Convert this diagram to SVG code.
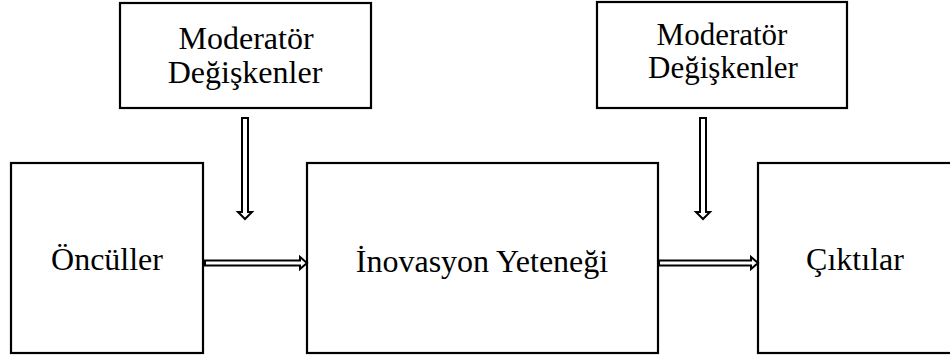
<svg xmlns="http://www.w3.org/2000/svg" width="950" height="358" viewBox="0 0 950 358">
<style>
.box{fill:#fff;stroke:#000;stroke-width:2.2}
.t{font-family:"Liberation Serif","Times New Roman",serif;font-size:32px;fill:#000;text-anchor:middle}
.t2{font-family:"Liberation Serif","Times New Roman",serif;font-size:31px;fill:#000;text-anchor:middle}
.arr{fill:#fff;stroke:#000;stroke-width:2;stroke-linejoin:miter}
</style>
<rect width="950" height="358" fill="#fff"/>
<g id="mod1">
<rect class="box" x="120" y="3" width="251" height="105"/>
<text class="t" x="246" y="49">Moderatör</text>
<text class="t" x="245" y="83">Değişkenler</text>
</g>
<g id="mod2">
<rect class="box" x="597" y="2" width="250" height="106"/>
<text class="t2" x="722" y="45">Moderatör</text>
<text class="t2" x="723" y="78">Değişkenler</text>
</g>
<g id="oncul">
<rect class="box" x="11" y="163" width="192" height="190"/>
<text class="t" x="107" y="270">Öncüller</text>
</g>
<g id="inov">
<rect class="box" x="307" y="163" width="351" height="190"/>
<text class="t" x="482" y="272">İnovasyon Yeteneği</text>
</g>
<g id="cikti">
<rect class="box" x="758" y="163" width="220" height="190"/>
<text class="t" x="855" y="270">Çıktılar</text>
</g>
<g id="connectors">
<polygon class="arr" points="242,118 248,118 248,212 252,212 245,219 238,212 242,212"/>
<polygon class="arr" points="700,118 706,118 706,212 710,212 703,219 696,212 700,212"/>
<polygon class="arr" points="205,260.5 300,260.5 300,257 307,263 300,269 300,265.5 205,265.5"/>
<polygon class="arr" points="659,260.5 751,260.5 751,257 758,263 751,269 751,265.5 659,265.5"/>
</g>
</svg>
